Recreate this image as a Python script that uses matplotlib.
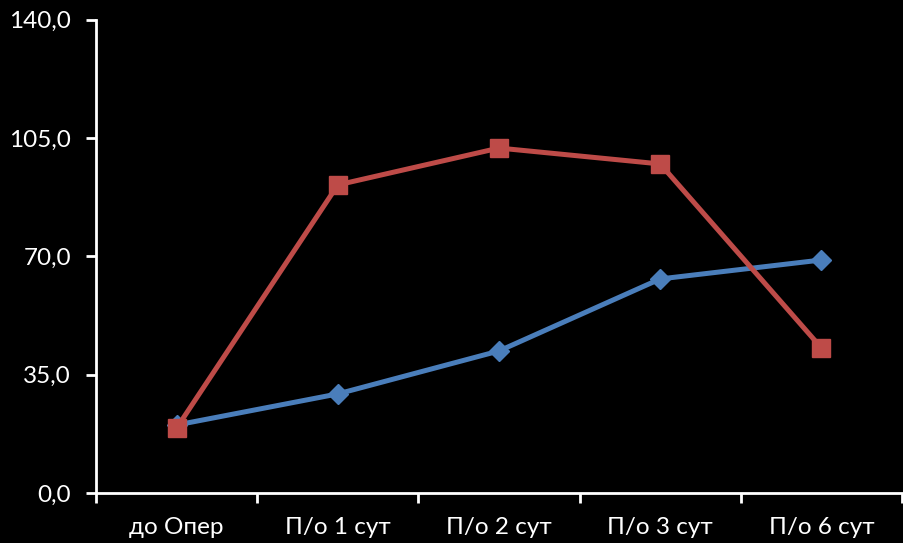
import matplotlib
matplotlib.use("Agg")
from matplotlib import pyplot as plt
from matplotlib.ticker import FixedLocator

categories = ["до Опер", "П/о 1 сут", "П/о 2 сут", "П/о 3 сут", "П/о 6 сут"]
series_blue = [20.1, 29.3, 42.0, 63.3, 68.9]
series_red = [19.2, 91.1, 102.0, 97.3, 42.9]
y_ticks = [0, 35, 70, 105, 140]

plt.rcParams['font.family'] = ['Lato', 'DejaVu Sans']

fig = plt.figure(figsize=(9.04, 5.43), dpi=100, facecolor='black')
ax = fig.add_axes([0.1062, 0.0921, 0.8916, 0.8719], facecolor='black')

x = list(range(len(categories)))
ax.plot(x, series_blue, color='#4a7ebb', lw=3.6, marker='D', markersize=10,
        markeredgecolor='#4a7ebb', zorder=3)
ax.plot(x, series_red, color='#be4b48', lw=3.6, marker='s', markersize=12.5,
        markeredgecolor='#be4b48', zorder=4)

ax.set_xlim(-0.5, len(categories) - 0.5)
ax.set_ylim(0, 140)

ax.set_yticks(y_ticks)
ax.set_yticklabels(["{:.1f}".format(v).replace('.', ',') for v in y_ticks])

# labels sit at category centres, tick marks at the boundaries between them
ax.set_xticks(x)
ax.set_xticklabels(categories)
ax.xaxis.set_minor_locator(FixedLocator([i - 0.5 for i in range(len(categories) + 1)]))

ax.tick_params(axis='x', which='major', length=0, pad=17, labelsize=17.5, labelcolor='white')
ax.tick_params(axis='x', which='minor', length=7, width=2, color='white', direction='out')
ax.tick_params(axis='y', length=7, width=2, color='white', pad=11, labelsize=17.5, labelcolor='white')

for side in ['top', 'right']:
    ax.spines[side].set_visible(False)
for side in ['left', 'bottom']:
    ax.spines[side].set_color('white')
    ax.spines[side].set_linewidth(2)
ax.spines['bottom'].set_zorder(5)

for lbl in ax.get_xticklabels() + ax.get_yticklabels():
    lbl.set_clip_on(False)

fig.savefig("out.png", dpi=100, facecolor='black')
